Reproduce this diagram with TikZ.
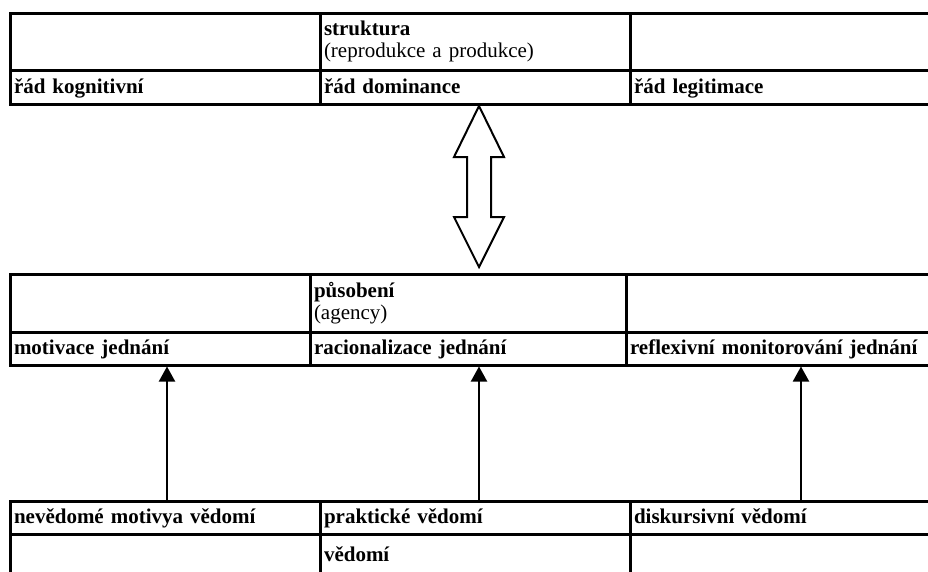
\documentclass[tikz,border=0pt]{standalone}
\usepackage{fontspec}
\setmainfont{Liberation Serif}
\usetikzlibrary{arrows.meta}

\begin{document}
\begin{tikzpicture}[x=1pt,y=-1pt,font=\fontsize{21}{22}\selectfont,
    cell/.style={draw, line width=3pt, rectangle, anchor=north west, outer sep=0pt,
                 inner xsep=4pt, inner ysep=0pt, align=left},
    row/.style={cell, font=\fontsize{21}{22}\selectfont\bfseries, text height=16pt, text depth=4pt},
    up/.style={-{Triangle[length=15pt,width=16pt]}, line width=2pt, shorten >=1.5pt},
    dbl/.style={draw=black, line width=2pt, fill=white}]

    \useasboundingbox (0,0) rectangle (928,571);
    \clip (0,0) rectangle (928,571);

    % struktura
    \node[cell, text width=302pt, minimum height=57pt] (t1) at (10,13) {};
    \node[cell, text width=302pt, minimum height=57pt] (t2) at (t1.north east) {\textbf{struktura}\\(reprodukce a produkce)};
    \node[cell, text width=302pt, minimum height=57pt] (t3) at (t2.north east) {};
    \node[row, text width=302pt, minimum height=34pt] (t4) at (t1.south west) {řád kognitivní};
    \node[row, text width=302pt, minimum height=34pt] (t5) at (t2.south west) {řád dominance};
    \node[row, text width=302pt, minimum height=34pt] (t6) at (t3.south west) {řád legitimace};

    % působení
    \node[cell, text width=292pt, minimum height=58pt] (m1) at (10,274) {};
    \node[cell, text width=308pt, minimum height=58pt] (m2) at (m1.north east) {\textbf{působení}\\(agency)};
    \node[cell, text width=306pt, minimum height=58pt] (m3) at (m2.north east) {};
    \node[row, text width=292pt, minimum height=33pt] (m4) at (m1.south west) {motivace jednání};
    \node[row, text width=308pt, minimum height=33pt] (m5) at (m2.south west) {racionalizace jednání};
    \node[row, text width=306pt, minimum height=33pt] (m6) at (m3.south west) {reflexivní monitorování jednání};

    % vědomí
    \node[row, text width=302pt, minimum height=33pt] (b1) at (10,501) {nevědomé motivya vědomí};
    \node[row, text width=302pt, minimum height=33pt] (b2) at (b1.north east) {praktické vědomí};
    \node[row, text width=302pt, minimum height=33pt] (b3) at (b2.north east) {diskursivní vědomí};
    \node[row, text width=302pt, minimum height=42pt] (b4) at (b1.south west) {};
    \node[row, text width=302pt, minimum height=42pt] (b5) at (b2.south west) {vědomí};
    \node[row, text width=302pt, minimum height=42pt] (b6) at (b3.south west) {};

    \coordinate (a1) at (167,0);
    \coordinate (a2) at (479,0);
    \coordinate (a3) at (801,0);

    \path (b1.north -| a1) edge[up] (m4.south -| a1)
          (b2.north -| a2) edge[up] (m5.south -| a2)
          (b3.north -| a3) edge[up] (m6.south -| a3);

    % double arrow between the two tables
    \coordinate (dt) at (479,106);
    \draw[dbl] (dt) -- ++(25,51) -- ++(-13,0) -- ++(0,60) -- ++(13,0) -- ++(-25,50)
               -- ++(-25,-50) -- ++(13,0) -- ++(0,-60) -- ++(-13,0) -- cycle;
\end{tikzpicture}
\end{document}
